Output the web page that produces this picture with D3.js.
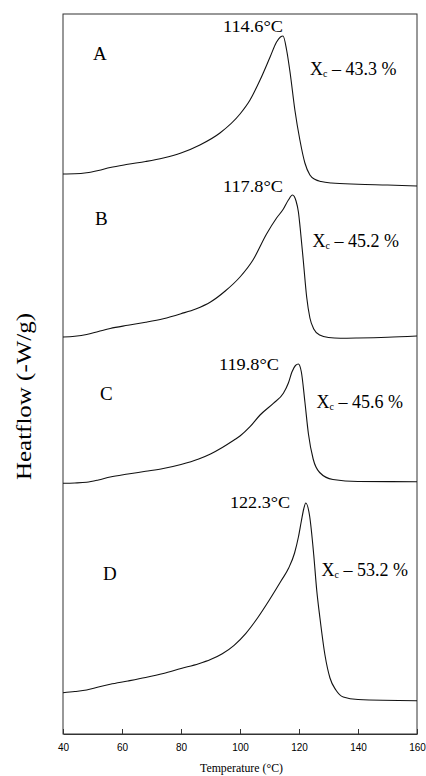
<!DOCTYPE html>
<html>
<head>
<meta charset="utf-8">
<script src="https://cdn.jsdelivr.net/npm/d3@7"></script>
<style>
  body { margin: 0; background: #fff; }
  svg { display: block; }
</style>
</head>
<body>
<svg id="chart" width="426" height="776"></svg>
<script>
// DSC crystallization exotherms of four samples, stacked with vertical offsets.
const sampleNames = ["A", "B", "C", "D"];
const peakTemps = [114.6, 117.8, 119.8, 122.3];      // °C
const crystallinity = [43.3, 45.2, 45.6, 53.2];       // Xc, %
const xTicks = [40, 60, 80, 100, 120, 140, 160];

// [temperature °C, heat flow (offset, arbitrary units)]
const curveA = [
  [40, 5.600], [44, 5.602], [48, 5.612], [52, 5.635], [56, 5.665], [62, 5.697],
  [68, 5.725], [74, 5.760], [80, 5.810], [86.4, 5.890], [93.2, 6.010], [100, 6.200],
  [103.4, 6.340], [106.8, 6.540], [110.2, 6.770], [112.4, 6.920], [113.7, 6.970],
  [114.6, 6.980], [115.8, 6.840], [117, 6.610], [118.6, 6.240], [120.3, 5.940],
  [122, 5.710], [123.7, 5.590], [125.5, 5.545], [127.5, 5.525], [131, 5.510],
  [140, 5.498], [150, 5.490], [160, 5.480]
];
const curveB = [
  [40, 3.970], [44, 3.978], [48, 3.995], [52, 4.025], [56, 4.055], [62, 4.087],
  [68, 4.117], [74, 4.153], [80, 4.203], [85, 4.250], [90, 4.320], [95, 4.430],
  [100, 4.570], [104.4, 4.740], [109, 5.000], [112.4, 5.160], [114.7, 5.250],
  [116.4, 5.340], [117.8, 5.390], [119, 5.330], [119.8, 5.220], [120.4, 5.060],
  [121.5, 4.720], [122.6, 4.370], [123.7, 4.160], [125, 4.050], [127, 3.990],
  [130, 3.965], [134, 3.958], [140, 3.960], [150, 3.967], [160, 3.980]
];
const curveC = [
  [40, 2.507], [44, 2.510], [48, 2.517], [52, 2.540], [56, 2.570], [62, 2.600],
  [68, 2.627], [74, 2.655], [80, 2.695], [86, 2.750], [90, 2.800], [94, 2.865],
  [98, 2.940], [100, 2.980], [103.4, 3.073], [106.8, 3.190], [111.3, 3.307],
  [114.7, 3.407], [116.4, 3.510], [117.6, 3.620], [118.8, 3.685], [119.8, 3.700],
  [120.8, 3.620], [122, 3.320], [123.2, 3.000], [124.8, 2.750], [127, 2.615],
  [131.5, 2.545], [140, 2.525], [160, 2.523]
];
const curveD = [
  [40, 0.413], [44, 0.425], [48, 0.440], [52, 0.470], [56, 0.497], [62, 0.530],
  [68, 0.565], [74, 0.605], [80, 0.655], [86, 0.703], [90, 0.745], [94, 0.803],
  [98, 0.887], [102, 1.007], [106, 1.163], [110, 1.343], [114, 1.535], [116.5, 1.660],
  [118.5, 1.810], [119.8, 1.970], [120.8, 2.130], [121.6, 2.250], [122.3, 2.310],
  [123.6, 2.180], [125, 1.790], [126, 1.440], [127.1, 1.160], [128.8, 0.790],
  [130.5, 0.560], [132.5, 0.440], [135, 0.370], [140, 0.345], [160, 0.333]
];
const curves = [curveA, curveB, curveC, curveD];

// ---- layout ----
const plot = { left: 63, right: 417, top: 14, bottom: 734 };
const serif = "'Liberation Serif', 'Times New Roman', Times, serif";
const sans = "'Liberation Sans', Arial, Helvetica, sans-serif";

// Annotation placement (left x / baseline y) for each trace
const nameLabelPos = [[93, 60], [95, 225], [100, 400], [103, 580]];
const peakLabelPos = [[223, 32], [223, 192], [219, 370], [230, 508]];
const xcLabelPos   = [[310, 75], [312.5, 247], [316.5, 408], [321.5, 576]];

const svg = d3.select("#chart");

const x = d3.scaleLinear().domain([40, 160]).range([plot.left, plot.right]);
const y = d3.scaleLinear().domain([0, 7.2]).range([plot.bottom, plot.top]);

// frame
svg.append("rect")
  .attr("x", plot.left).attr("y", plot.top)
  .attr("width", plot.right - plot.left).attr("height", plot.bottom - plot.top)
  .attr("fill", "none").attr("stroke", "#333").attr("stroke-width", 1);

// x axis with inward ticks
const xAxis = d3.axisBottom(x).tickValues(xTicks).tickFormat(d3.format("d"))
  .tickSizeInner(-5).tickSizeOuter(0).tickPadding(10);
const gx = svg.append("g").attr("transform", `translate(0,${plot.bottom})`).call(xAxis);
gx.select(".domain").attr("stroke", "#333");
gx.selectAll(".tick line").attr("stroke", "#333");
gx.selectAll(".tick text").attr("font-family", sans).attr("font-size", 10).attr("fill", "#000");

// axis titles
svg.append("text")
  .attr("x", 241.5).attr("y", 772)
  .attr("text-anchor", "middle")
  .attr("font-family", serif).attr("font-size", 11.5)
  .attr("textLength", 83).attr("lengthAdjust", "spacingAndGlyphs")
  .text("Temperature (\u00B0C)");

svg.append("text")
  .attr("transform", "translate(31,396.5) rotate(-90)")
  .attr("text-anchor", "middle")
  .attr("font-family", serif).attr("font-size", 22)
  .attr("textLength", 167).attr("lengthAdjust", "spacingAndGlyphs")
  .text("Heatflow (-W/g)");

// traces
const line = d3.line()
  .x(d => x(d[0]))
  .y(d => y(d[1]))
  .curve(d3.curveMonotoneX);

svg.append("g").selectAll("path")
  .data(curves)
  .join("path")
  .attr("d", line)
  .attr("fill", "none")
  .attr("stroke", "#111")
  .attr("stroke-width", 1.1)
  .attr("stroke-linejoin", "round");

// sample letters
svg.append("g").selectAll("text")
  .data(sampleNames)
  .join("text")
  .attr("x", (d, i) => nameLabelPos[i][0])
  .attr("y", (d, i) => nameLabelPos[i][1])
  .attr("font-family", serif).attr("font-size", 19)
  .text(d => d);

// peak temperatures
svg.append("g").selectAll("text")
  .data(peakTemps)
  .join("text")
  .attr("x", (d, i) => peakLabelPos[i][0])
  .attr("y", (d, i) => peakLabelPos[i][1])
  .attr("font-family", serif).attr("font-size", 16)
  .attr("textLength", 60).attr("lengthAdjust", "spacingAndGlyphs")
  .text(d => d.toFixed(1) + "\u00B0C");

// degree of crystallinity
const xc = svg.append("g").selectAll("text")
  .data(crystallinity)
  .join("text")
  .attr("x", (d, i) => xcLabelPos[i][0])
  .attr("y", (d, i) => xcLabelPos[i][1])
  .attr("font-family", serif).attr("font-size", 18);
xc.append("tspan").text("X");
xc.append("tspan").attr("font-size", 10).attr("dy", 2).text("c");
xc.append("tspan").attr("dy", -2).text(d => " \u2013 " + d.toFixed(1) + " %");
</script>
</body>
</html>
